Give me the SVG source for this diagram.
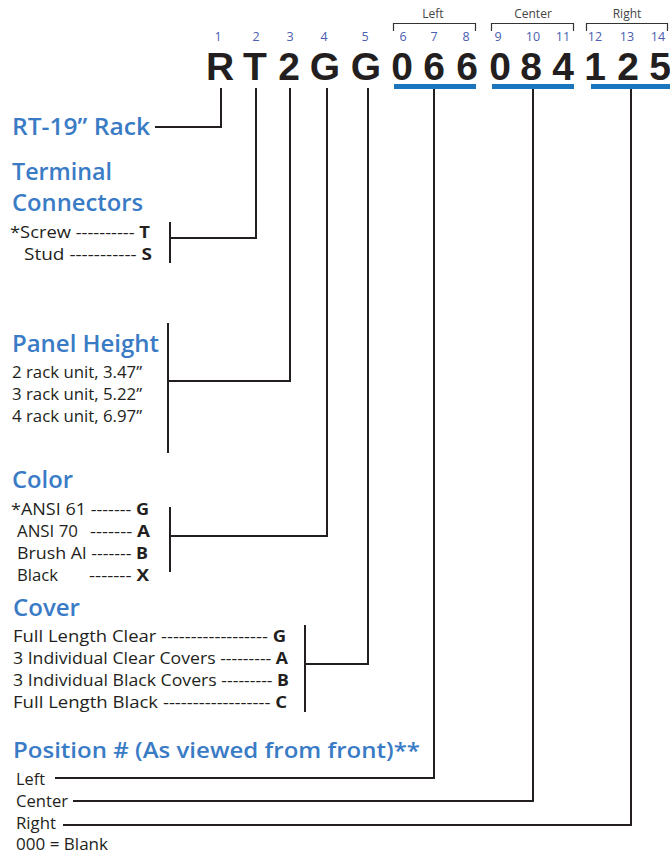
<svg xmlns="http://www.w3.org/2000/svg" width="670" height="855" viewBox="0 0 670 855">
<style>
.code{font-family:"Liberation Sans",Arial,sans-serif;font-weight:bold;font-size:39px;fill:#231f20;text-anchor:middle}
.num{font-family:"Open Sans","Noto Sans",sans-serif;font-size:12.5px;fill:#4a5db0;text-anchor:middle}
.grp{font-family:"Open Sans","Noto Sans",sans-serif;font-size:12px;fill:#444;text-anchor:middle}
.head{font-family:"Open Sans","Noto Sans",sans-serif;font-weight:600;font-size:23px;fill:#3a7bc6}
.body{font-family:"Open Sans","Noto Sans",sans-serif;font-size:16px;fill:#231f20}
.b{font-weight:bold}
.ln{fill:none;stroke:#231f20;stroke-width:2}
.br{fill:none;stroke:#333;stroke-width:1.2}
.bar{fill:#1b75bc}
</style>
<g id="code">
<text class="code" x="220" y="80">R</text>
<text class="code" x="255" y="80">T</text>
<text class="code" x="289" y="80">2</text>
<text class="code" x="325" y="80">G</text>
<text class="code" x="366" y="80">G</text>
<text class="code" x="402" y="80">0</text>
<text class="code" x="434" y="80">6</text>
<text class="code" x="467" y="80">6</text>
<text class="code" x="500" y="80">0</text>
<text class="code" x="531" y="80">8</text>
<text class="code" x="563" y="80">4</text>
<text class="code" x="595" y="80">1</text>
<text class="code" x="628" y="80">2</text>
<text class="code" x="660" y="80">5</text>
</g>
<g id="positions">
<text class="num" x="218" y="41">1</text>
<text class="num" x="256" y="41">2</text>
<text class="num" x="290" y="41">3</text>
<text class="num" x="324" y="41">4</text>
<text class="num" x="365" y="41">5</text>
<text class="num" x="403" y="41">6</text>
<text class="num" x="434" y="41">7</text>
<text class="num" x="466" y="41">8</text>
<text class="num" x="498" y="41">9</text>
<text class="num" x="533" y="41">10</text>
<text class="num" x="563" y="41">11</text>
<text class="num" x="595" y="41">12</text>
<text class="num" x="627" y="41">13</text>
<text class="num" x="658" y="41">14</text>
</g>
<g id="groups">
<text class="grp" x="433" y="18">Left</text>
<text class="grp" x="533" y="18">Center</text>
<text class="grp" x="627" y="18">Right</text>
<path class="br" d="M393.5,31 V23.5 H475.5 V31"/>
<path class="br" d="M491.5,31 V23.5 H573.5 V31"/>
<path class="br" d="M586.5,31 V23.5 H667.5 V31"/>
<rect class="bar" x="394" y="84" width="82" height="5"/>
<rect class="bar" x="492" y="84" width="82" height="5"/>
<rect class="bar" x="591" y="84" width="79" height="5"/>
</g>
<g id="rack">
<text class="head" x="12" y="135" textLength="138" lengthAdjust="spacingAndGlyphs">RT-19” Rack</text>
</g>
<g id="terminal">
<text class="head" x="12" y="180" textLength="100" lengthAdjust="spacingAndGlyphs">Terminal</text>
<text class="head" x="12" y="211" textLength="131" lengthAdjust="spacingAndGlyphs">Connectors</text>
<text class="body" x="10" y="238" textLength="140" lengthAdjust="spacingAndGlyphs">*Screw ---------- <tspan class="b">T</tspan></text>
<text class="body" x="24" y="260" textLength="128" lengthAdjust="spacingAndGlyphs">Stud ----------- <tspan class="b">S</tspan></text>
</g>
<g id="height">
<text class="head" x="12" y="352" textLength="147" lengthAdjust="spacingAndGlyphs">Panel Height</text>
<text class="body" x="12" y="378" textLength="130" lengthAdjust="spacingAndGlyphs">2 rack unit, 3.47”</text>
<text class="body" x="12" y="400" textLength="130" lengthAdjust="spacingAndGlyphs">3 rack unit, 5.22”</text>
<text class="body" x="12" y="422" textLength="130" lengthAdjust="spacingAndGlyphs">4 rack unit, 6.97”</text>
</g>
<g id="color">
<text class="head" x="12" y="488" textLength="61" lengthAdjust="spacingAndGlyphs">Color</text>
<text class="body" x="11" y="515" textLength="138" lengthAdjust="spacingAndGlyphs">*ANSI 61 ------- <tspan class="b">G</tspan></text>
<text class="body" x="17" y="537"><tspan textLength="61" lengthAdjust="spacingAndGlyphs">ANSI 70</tspan><tspan x="90" textLength="60" lengthAdjust="spacingAndGlyphs">------- <tspan class="b">A</tspan></tspan></text>
<text class="body" x="17" y="559" textLength="131" lengthAdjust="spacingAndGlyphs">Brush Al ------- <tspan class="b">B</tspan></text>
<text class="body" x="17" y="581"><tspan textLength="41" lengthAdjust="spacingAndGlyphs">Black</tspan><tspan x="89" textLength="60" lengthAdjust="spacingAndGlyphs">------- <tspan class="b">X</tspan></tspan></text>
</g>
<g id="cover">
<text class="head" x="13" y="616" textLength="67" lengthAdjust="spacingAndGlyphs">Cover</text>
<text class="body" x="13" y="642" textLength="273" lengthAdjust="spacingAndGlyphs">Full Length Clear ------------------ <tspan class="b">G</tspan></text>
<text class="body" x="13" y="664" textLength="275" lengthAdjust="spacingAndGlyphs">3 Individual Clear Covers --------- <tspan class="b">A</tspan></text>
<text class="body" x="13" y="686" textLength="276" lengthAdjust="spacingAndGlyphs">3 Individual Black Covers --------- <tspan class="b">B</tspan></text>
<text class="body" x="13" y="708" textLength="274" lengthAdjust="spacingAndGlyphs">Full Length Black ------------------ <tspan class="b">C</tspan></text>
</g>
<g id="position">
<text class="head" x="13" y="758" style="font-size:22px" textLength="407" lengthAdjust="spacingAndGlyphs">Position # (As viewed from front)**</text>
<text class="body" x="16" y="785" textLength="29" lengthAdjust="spacingAndGlyphs">Left</text>
<text class="body" x="16" y="807" textLength="52" lengthAdjust="spacingAndGlyphs">Center</text>
<text class="body" x="16" y="829" textLength="40" lengthAdjust="spacingAndGlyphs">Right</text>
<text class="body" x="16" y="850" textLength="92" lengthAdjust="spacingAndGlyphs">000 = Blank</text>
</g>
<g id="connectors">
<path class="ln" d="M221,88 V127 H155"/>
<path class="ln" d="M256,88 V238 H170"/>
<path class="ln" d="M170,222 V263"/>
<path class="ln" d="M290,88 V381 H168"/>
<path class="ln" d="M168,323 V453"/>
<path class="ln" d="M327,88 V536 H170"/>
<path class="ln" d="M170,507 V572"/>
<path class="ln" d="M368,88 V664 H305"/>
<path class="ln" d="M305,625 V712"/>
<path class="ln" d="M434,89 V778 H55"/>
<path class="ln" d="M533,89 V801 H73"/>
<path class="ln" d="M631,89 V825 H63"/>
</g>
</svg>
